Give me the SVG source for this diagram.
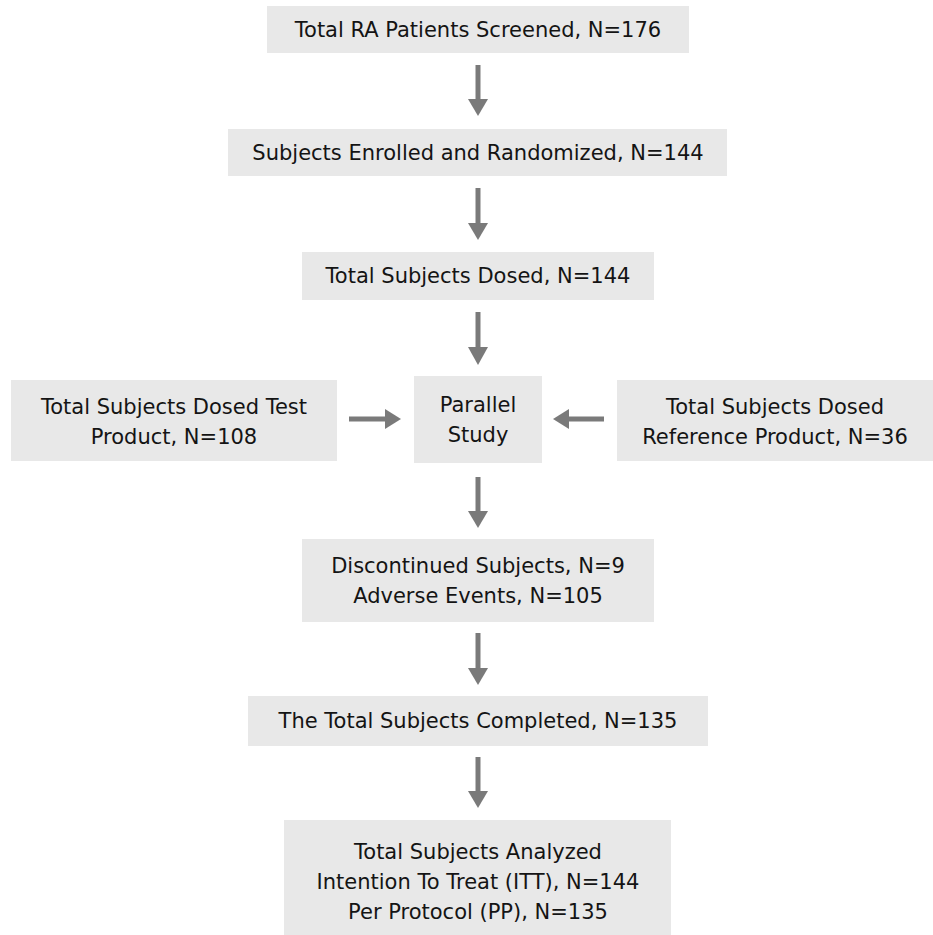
<svg xmlns="http://www.w3.org/2000/svg" width="933" height="935" viewBox="0 0 933 935">
<style>
.box{fill:#e8e8e8}
.t{font-family:"DejaVu Sans","Liberation Sans",sans-serif;font-size:21px;fill:#141414;text-anchor:middle}
.c{stroke:#7a7a7a;stroke-width:5;fill:none}
.h{fill:#7a7a7a}
</style>
<rect width="933" height="935" fill="#ffffff"/>
<g id="n1"><rect class="box" x="267" y="6" width="422" height="47"/><text class="t" x="478" y="37">Total RA Patients Screened, N=176</text></g>
<g id="n2"><rect class="box" x="228" y="129" width="499" height="47"/><text class="t" x="478" y="160">Subjects Enrolled and Randomized, N=144</text></g>
<g id="n3"><rect class="box" x="302" y="252" width="352" height="48"/><text class="t" x="478" y="283">Total Subjects Dosed, N=144</text></g>
<g id="n4"><rect class="box" x="11" y="380" width="326" height="81"/><text class="t" x="174" y="414">Total Subjects Dosed Test</text><text class="t" x="174" y="444">Product, N=108</text></g>
<g id="n5"><rect class="box" x="414" y="376" width="128" height="87"/><text class="t" x="478" y="412">Parallel</text><text class="t" x="478" y="442">Study</text></g>
<g id="n6"><rect class="box" x="617" y="380" width="316" height="81"/><text class="t" x="775" y="414">Total Subjects Dosed</text><text class="t" x="775" y="444">Reference Product, N=36</text></g>
<g id="n7"><rect class="box" x="302" y="539" width="352" height="83"/><text class="t" x="478" y="573">Discontinued Subjects, N=9</text><text class="t" x="478" y="603">Adverse Events, N=105</text></g>
<g id="n8"><rect class="box" x="248" y="696" width="460" height="50"/><text class="t" x="478" y="728">The Total Subjects Completed, N=135</text></g>
<g id="n9"><rect class="box" x="284" y="820" width="387" height="115"/><text class="t" x="478" y="859">Total Subjects Analyzed</text><text class="t" x="478" y="889">Intention To Treat (ITT), N=144</text><text class="t" x="478" y="919">Per Protocol (PP), N=135</text></g>
<g id="connectors">
<line class="c" x1="478" y1="65" x2="478" y2="101"/><polygon class="h" points="468,99 488,99 478,116"/>
<line class="c" x1="478" y1="188" x2="478" y2="225"/><polygon class="h" points="468,223 488,223 478,240"/>
<line class="c" x1="478" y1="312" x2="478" y2="349"/><polygon class="h" points="468,347 488,347 478,365"/>
<line class="c" x1="478" y1="477" x2="478" y2="513"/><polygon class="h" points="468,511 488,511 478,528"/>
<line class="c" x1="478" y1="633" x2="478" y2="670"/><polygon class="h" points="468,668 488,668 478,685"/>
<line class="c" x1="478" y1="757" x2="478" y2="793"/><polygon class="h" points="468,791 488,791 478,808"/>
<line class="c" x1="349" y1="419" x2="387" y2="419"/><polygon class="h" points="385,409 385,429 401,419"/>
<line class="c" x1="604" y1="419" x2="567" y2="419"/><polygon class="h" points="569,409 569,429 553,419"/>
</g>
</svg>
